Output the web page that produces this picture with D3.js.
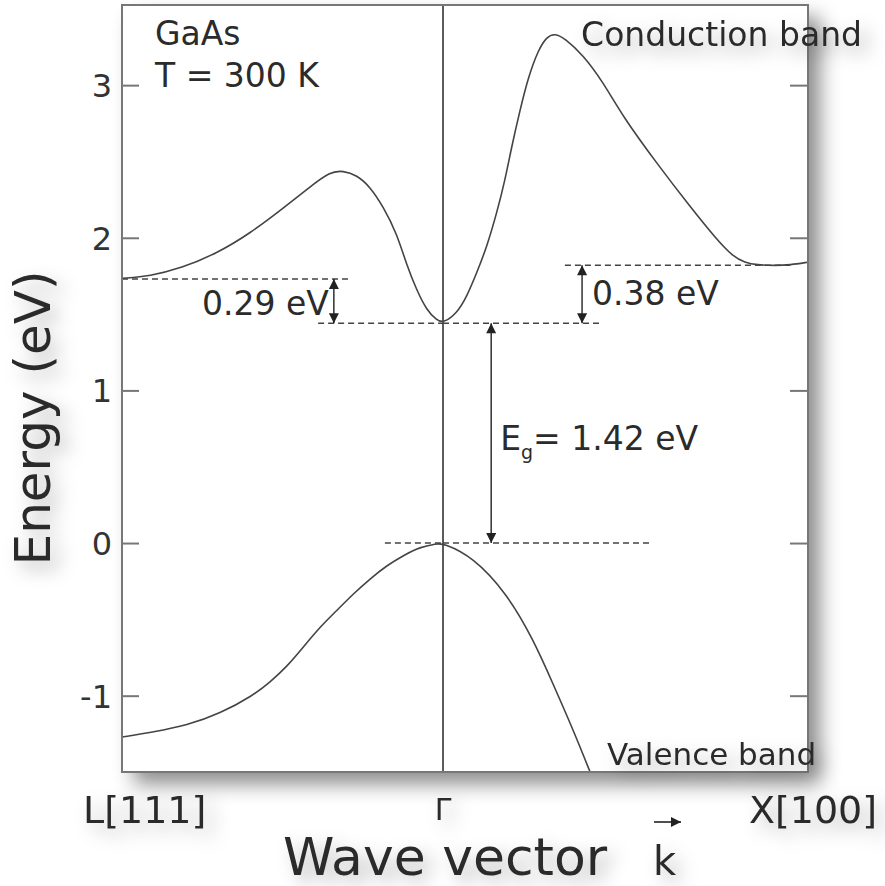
<!DOCTYPE html>
<html>
<head>
<meta charset="utf-8">
<script src="https://cdn.jsdelivr.net/npm/d3@7"></script>
<style>
  body { margin: 0; background: #fff; }
  svg { display: block; font-family: "DejaVu Sans", sans-serif; }
  .tick text { font-size: 32px; fill: #333; }
  .tick line { stroke: #777; stroke-width: 2; }
</style>
</head>
<body>
<script>
// energy axis ticks (eV)
const energyTicks = [-1, 0, 1, 2, 3];
// symmetry points along k
const kPointPos = [-1, 0, 1];
const kPointNames = ["L[111]", "Γ", "X[100]"];

// conduction band, L -> Γ -> X (k normalised, L=-1, X=+1)
const condK = [-1, -0.913, -0.816, -0.704, -0.601, -0.498, -0.414, -0.352, -0.311, -0.269, -0.227, -0.186, -0.144, -0.113, -0.082, -0.051, -0.020, 0,
  0.038, 0.065, 0.092, 0.120, 0.147, 0.170, 0.188, 0.211, 0.234, 0.261, 0.284, 0.307, 0.334, 0.384, 0.438, 0.493,
  0.586, 0.677, 0.751, 0.795, 0.827, 0.860, 0.910, 0.951, 1];
const condE = [1.734, 1.749, 1.80, 1.898, 2.029, 2.193, 2.334, 2.433, 2.439, 2.411, 2.334, 2.203, 2.029, 1.821, 1.657, 1.526, 1.461, 1.44,
  1.505, 1.614, 1.767, 1.941, 2.160, 2.378, 2.596, 2.837, 3.055, 3.230, 3.317, 3.339, 3.306, 3.197, 3.022, 2.793,
  2.487, 2.203, 1.985, 1.876, 1.838, 1.822, 1.818, 1.822, 1.84];

// valence band
const valK = [-1, -0.902, -0.798, -0.695, -0.591, -0.539, -0.487, -0.435, -0.383, -0.331, -0.279, -0.227, -0.175, -0.123, -0.072, -0.020, 0,
  0.082, 0.175, 0.247, 0.301, 0.356, 0.403];
const valE = [-1.271, -1.238, -1.195, -1.118, -0.998, -0.911, -0.812, -0.681, -0.550, -0.442, -0.332, -0.234, -0.147, -0.081, -0.026, -0.005, 0,
  -0.09, -0.33, -0.63, -0.92, -1.22, -1.50];

// reference levels (dashed) : energy and k extent
const levelE = [1.73, 1.44, 1.44, 1.82, 0, 0];
const levelK0 = [-1, -0.389, 0, 0.334, -0.181, 0];
const levelK1 = [-0.29, 0, 0.436, 0.951, 0, 0.567];

// gaps (double arrows)
const gapK = [-0.340, 0.381, 0.132];
const gapFrom = [1.44, 1.44, 0];
const gapTo = [1.73, 1.82, 1.44];
const gapLabels = ["0.29 eV", "0.38 eV", "1.42 eV"];

const W = 885, H = 886;
const pl = 122, pr = 808, pt = 5, pb = 772;

const x = d3.scaleLinear().domain([-1, 0, 1]).range([pl, 443, pr]);
const y = d3.scaleLinear().domain([-1.5, 3.525]).range([pb, pt]);

const svg = d3.select("body").append("svg")
    .attr("width", W)
    .attr("height", H);

const defs = svg.append("defs");
defs.append("filter")
    .attr("id", "boxShadow")
    .attr("filterUnits", "userSpaceOnUse")
    .attr("x", 0).attr("y", 0).attr("width", W).attr("height", H)
    .append("feDropShadow")
    .attr("dx", 12).attr("dy", 12).attr("stdDeviation", 10)
    .attr("flood-color", "#000").attr("flood-opacity", 0.45);
defs.append("filter")
    .attr("id", "textShadow")
    .attr("filterUnits", "userSpaceOnUse")
    .attr("x", 0).attr("y", 0).attr("width", W).attr("height", H)
    .append("feDropShadow")
    .attr("dx", 8).attr("dy", 8).attr("stdDeviation", 9)
    .attr("flood-color", "#000").attr("flood-opacity", 0.3);
defs.append("clipPath")
    .attr("id", "plotClip")
    .append("rect")
    .attr("x", pl).attr("y", pt)
    .attr("width", pr - pl).attr("height", pb - pt);

["arrowEnd", "arrowStart"].forEach((id, i) => {
    defs.append("marker")
        .attr("id", id)
        .attr("viewBox", "0 0 10 10")
        .attr("refX", 10).attr("refY", 5)
        .attr("markerUnits", "userSpaceOnUse")
        .attr("markerWidth", 11).attr("markerHeight", 10)
        .attr("orient", i === 0 ? "auto" : "auto-start-reverse")
        .append("path")
        .attr("d", "M0,0 L10,5 L0,10 z")
        .attr("fill", "#222");
});

// shadowed plot box
svg.append("rect")
    .attr("x", pl).attr("y", pt)
    .attr("width", pr - pl).attr("height", pb - pt)
    .attr("fill", "#fff")
    .attr("filter", "url(#boxShadow)");

// axis ticks
svg.append("g")
    .attr("transform", `translate(${pl},0)`)
    .call(d3.axisLeft(y).tickValues(energyTicks).tickSize(-17).tickPadding(10).tickFormat(d => String(d)))
    .call(g => g.select(".domain").remove())
    .call(g => g.selectAll("text").attr("font-family", "DejaVu Sans").attr("dy", "0.36em"));

svg.append("g")
    .attr("transform", `translate(${pr},0)`)
    .call(d3.axisRight(y).tickValues(energyTicks).tickSize(-18).tickFormat(""))
    .call(g => g.select(".domain").remove());

// Γ line
svg.append("line")
    .attr("x1", x(0)).attr("x2", x(0))
    .attr("y1", pt).attr("y2", pb)
    .attr("stroke", "#333").attr("stroke-width", 1.6);

// dashed reference levels
svg.append("g").selectAll("line")
    .data(levelE)
    .join("line")
    .attr("x1", (d, i) => x(levelK0[i]))
    .attr("x2", (d, i) => x(levelK1[i]))
    .attr("y1", d => y(d)).attr("y2", d => y(d))
    .attr("stroke", "#444").attr("stroke-width", 1.4)
    .attr("stroke-dasharray", "6,4");

// bands
const line = d3.line()
    .x(d => x(d[0]))
    .y(d => y(d[1]))
    .curve(d3.curveBasis);

const bands = svg.append("g").attr("clip-path", "url(#plotClip)");
bands.append("path")
    .attr("d", line(condK.map((k, i) => [k, condE[i]])))
    .attr("fill", "none").attr("stroke", "#444").attr("stroke-width", 1.6);
bands.append("path")
    .attr("d", line(valK.map((k, i) => [k, valE[i]])))
    .attr("fill", "none").attr("stroke", "#444").attr("stroke-width", 1.6);

// gap arrows
svg.append("g").selectAll("line")
    .data(gapK)
    .join("line")
    .attr("x1", d => x(d)).attr("x2", d => x(d))
    .attr("y1", (d, i) => y(gapFrom[i]))
    .attr("y2", (d, i) => y(gapTo[i]))
    .attr("stroke", "#222").attr("stroke-width", 1.4)
    .attr("marker-start", "url(#arrowStart)")
    .attr("marker-end", "url(#arrowEnd)");

// plot frame
svg.append("rect")
    .attr("x", pl).attr("y", pt)
    .attr("width", pr - pl).attr("height", pb - pt)
    .attr("fill", "none")
    .attr("stroke", "#777").attr("stroke-width", 2);

const txt = svg.append("g").attr("fill", "#2b2b2b");

// gap labels
txt.append("text")
    .attr("x", x(gapK[0]) - 5).attr("y", y((gapFrom[0] + gapTo[0]) / 2) + 14)
    .attr("text-anchor", "end").attr("font-size", 33)
    .text(gapLabels[0]);
txt.append("text")
    .attr("x", x(gapK[1]) + 10).attr("y", y((gapFrom[1] + gapTo[1]) / 2) + 11)
    .attr("font-size", 33)
    .text(gapLabels[1]);
const eg = txt.append("text")
    .attr("x", x(gapK[2]) + 9).attr("y", y((gapFrom[2] + gapTo[2]) / 2) + 17)
    .attr("font-size", 33);
eg.append("tspan").text("E");
eg.append("tspan").attr("font-size", 19).attr("dy", 9).text("g");
eg.append("tspan").attr("dy", -9).text("= " + gapLabels[2]);

// material text
txt.append("text").attr("x", 155).attr("y", 45).attr("font-size", 33).text("GaAs");
txt.append("text").attr("x", 155).attr("y", 87).attr("font-size", 33).text("T = 300 K");

// band names
txt.append("text").attr("x", 862).attr("y", 46).attr("text-anchor", "end")
    .attr("font-size", 33).attr("filter", "url(#textShadow)").text("Conduction band");
txt.append("text").attr("x", 607).attr("y", 765)
    .attr("font-size", 31).attr("filter", "url(#textShadow)").text("Valence band");

// k point labels
const kLabelSize = [38, 30, 38];
const kLabelDx = [-39, 0, 5];
const kLabelY = [823, 820, 823];
txt.append("g").selectAll("text")
    .data(kPointPos)
    .join("text")
    .attr("x", (d, i) => x(d) + kLabelDx[i])
    .attr("y", (d, i) => kLabelY[i])
    .attr("text-anchor", (d, i) => i === 0 ? "start" : "middle")
    .attr("font-size", (d, i) => kLabelSize[i])
    .attr("filter", "url(#textShadow)")
    .text((d, i) => kPointNames[i]);

// axis titles
txt.append("g")
    .attr("filter", "url(#textShadow)")
    .append("text")
    .attr("transform", "translate(50,418) rotate(-90)")
    .attr("text-anchor", "middle")
    .attr("font-size", 50)
    .text("Energy (eV)");
txt.append("text")
    .attr("x", 283).attr("y", 875)
    .attr("font-size", 52)
    .attr("filter", "url(#textShadow)")
    .text("Wave vector");
txt.append("text")
    .attr("x", 653).attr("y", 875)
    .attr("font-size", 40)
    .attr("filter", "url(#textShadow)")
    .text("k");
svg.append("line")
    .attr("x1", 654).attr("x2", 681)
    .attr("y1", 822).attr("y2", 822)
    .attr("stroke", "#222").attr("stroke-width", 1.6)
    .attr("marker-end", "url(#arrowEnd)");
</script>
</body>
</html>
